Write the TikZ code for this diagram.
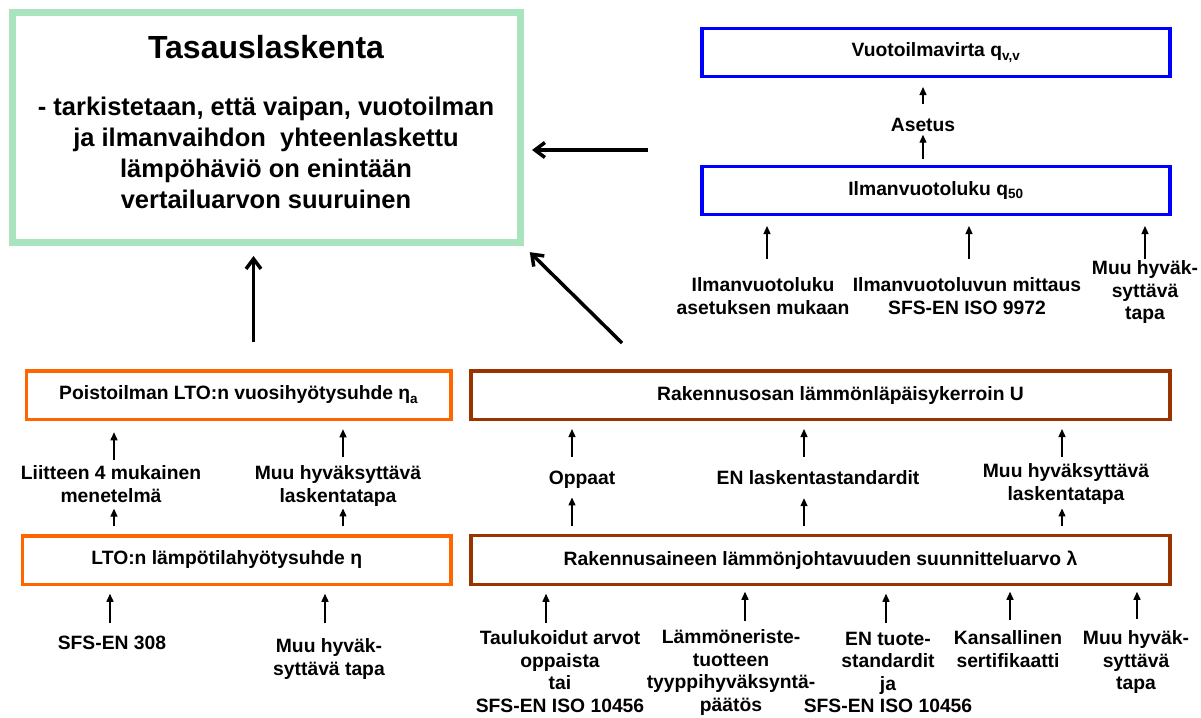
\documentclass[tikz,border=0pt]{standalone}
\usepackage{fontspec}
\setmainfont{Liberation Sans}
\usetikzlibrary{arrows.meta}
\definecolor{tasausgreen}{RGB}{170, 228, 190}
\definecolor{vuotoblue}{RGB}{0, 0, 255}
\definecolor{ltoorange}{RGB}{255, 102, 0}
\definecolor{rakennusbrown}{RGB}{153, 51, 0}

\begin{document}
\begin{tikzpicture}[
        x=1pt, y=-1pt,
        every node/.style={font=\bfseries\fontsize{19.3}{22.5}\selectfont, inner sep=0pt, outer sep=0pt},
        tasausbox/.style={rectangle, draw=tasausgreen, line width=7pt, minimum width=507.5pt, minimum height=230pt},
        vuotobox/.style={rectangle, draw=vuotoblue, line width=3.3pt, minimum width=468pt, minimum height=48pt},
        ltobox/.style={rectangle, draw=ltoorange, line width=3.5pt, minimum height=48.5pt},
        rakbox/.style={rectangle, draw=rakennusbrown, line width=3.3pt, minimum width=699pt, minimum height=48.5pt},
        selite/.style={align=center, anchor=north},
        pieni/.style={-{Triangle[length=8pt, width=7pt]}, line width=1.3pt},
        iso/.style={-{Straight Barb[length=10pt, width=15pt]}, line width=3.5pt}
    ]
    \path[use as bounding box, fill=white] (0,0) rectangle (1201,717);

    % Tasauslaskenta
    \node[tasausbox] (tasaus) at (266.25, 127.5) {};
    \node[font=\bfseries\fontsize{32}{38}\selectfont] (otsikko) at (266, 47) {Tasauslaskenta};
    \node[align=center, font=\bfseries\fontsize{25.5}{31}\selectfont] (kuvaus) at (266, 152.5) {- tarkistetaan, että vaipan, vuotoilman\\ja ilmanvaihdon\ \ yhteenlaskettu\\lämpöhäviö on enintään\\vertailuarvon suuruinen};

    % Vuotoilma
    \node[vuotobox] (vuoto) at (936, 52.5) {Vuotoilmavirta q\textsubscript{v,v}};
    \node (asetus) at (923, 125) {Asetus};
    \node[vuotobox] (ilmanv) at (936, 190.5) {Ilmanvuotoluku q\textsubscript{50}};
    \node[selite] (ilmasetus) at (763, 278) {Ilmanvuotoluku\\asetuksen mukaan};
    \node[selite] (ilmmittaus) at (967, 278) {Ilmanvuotoluvun mittaus\\SFS-EN ISO 9972};
    \node[selite] (ilmmuu) at (1145, 261) {Muu hyväk-\\syttävä\\tapa};

    % LTO
    \node[ltobox, minimum width=424.5pt] (poisto) at (238.75, 395) {Poistoilman LTO:n vuosihyötysuhde η\textsubscript{a}};
    \node[selite] (liite) at (111, 466) {Liitteen 4 mukainen\\menetelmä};
    \node[selite] (poistomuu) at (338, 466) {Muu hyväksyttävä\\laskentatapa};
    \node[ltobox, minimum width=428.5pt] (lampo) at (236.75, 560) {LTO:n lämpötilahyötysuhde η\hspace*{20pt}};
    \node[selite] (sfs) at (112, 636) {SFS-EN 308};
    \node[selite] (lampomuu) at (329, 639) {Muu hyväk-\\syttävä tapa};

    % Rakennusosa
    \node[rakbox] (uarvo) at (820.5, 395.25) {\hspace*{40pt}Rakennusosan lämmönläpäisykerroin U};
    \node[selite] (oppaat) at (582, 471) {Oppaat};
    \node[selite] (enlask) at (818, 471) {EN laskentastandardit};
    \node[selite] (rakmuu) at (1066, 464) {Muu hyväksyttävä\\laskentatapa};
    \node[rakbox] (lambda) at (820.5, 560) {Rakennusaineen lämmönjohtavuuden suunnitteluarvo λ};
    \node[selite] (taulukko) at (560, 631) {Taulukoidut arvot\\oppaista\\tai\\SFS-EN ISO 10456};
    \node[selite] (eriste) at (731, 630) {Lämmöneriste-\\tuotteen\\tyyppihyväksyntä-\\päätös};
    \node[selite] (tuote) at (888, 632) {EN tuote-\\standardit\\ja\\SFS-EN ISO 10456};
    \node[selite] (kansall) at (1008, 631) {Kansallinen\\sertifikaatti};
    \node[selite] (lambdamuu) at (1136, 631) {Muu hyväk-\\syttävä\\tapa};

    % Big arrows into Tasauslaskenta
    \coordinate (vuotoryhma) at (648, 150);
    \coordinate (ltoryhma) at (253.5, 342);
    \coordinate (rakryhma) at (622, 343);
    \draw[iso, shorten >=12pt] (vuotoryhma) -- (vuotoryhma -| tasaus.east);
    \draw[iso, shorten >=13.5pt] (ltoryhma) -- (ltoryhma |- tasaus.south);
    \draw[iso, shorten >=13.8pt] (rakryhma) -- (tasaus.south east);

    % Vuotoilma arrows
    \draw[pieni, shorten <=14pt, shorten >=10.5pt] (asetus.north) -- (asetus.north |- vuoto.south);
    \draw[pieni, shorten <=7.5pt, shorten >=3pt] (asetus.south |- ilmanv.north) -- (asetus.south);
    \draw[pieni, shorten <=19pt, shorten >=11.5pt] ([xshift=4pt]ilmasetus.north) -- ([xshift=4pt]ilmasetus.north |- ilmanv.south);
    \draw[pieni, shorten <=19pt, shorten >=11.5pt] ([xshift=2pt]ilmmittaus.north) -- ([xshift=2pt]ilmmittaus.north |- ilmanv.south);
    \draw[pieni, shorten <=2pt, shorten >=11.5pt] (ilmmuu.north) -- (ilmmuu.north |- ilmanv.south);

    % LTO arrows
    \draw[pieni, shorten <=6pt, shorten >=13pt] ([xshift=3pt]liite.north) -- ([xshift=3pt]liite.north |- poisto.south);
    \draw[pieni, shorten <=9pt, shorten >=10pt] ([xshift=5pt]poistomuu.north) -- ([xshift=5pt]poistomuu.north |- poisto.south);
    \draw[pieni, shorten <=9.5pt, shorten >=6pt] ([xshift=3pt]liite.south |- lampo.north) -- ([xshift=3pt]liite.south);
    \draw[pieni, shorten <=9.5pt, shorten >=2pt] ([xshift=5pt]poistomuu.south |- lampo.north) -- ([xshift=5pt]poistomuu.south);
    \draw[pieni, shorten <=13pt, shorten >=9.5pt] ([xshift=-2pt]sfs.north) -- ([xshift=-2pt]sfs.north |- lampo.south);
    \draw[pieni, shorten <=16pt, shorten >=9.5pt] ([xshift=-4pt]lampomuu.north) -- ([xshift=-4pt]lampomuu.north |- lampo.south);

    % Rakennusosa arrows
    \draw[pieni, shorten <=14pt, shorten >=9.5pt] ([xshift=-10pt]oppaat.north) -- ([xshift=-10pt]oppaat.north |- uarvo.south);
    \draw[pieni, shorten <=14pt, shorten >=9.5pt] ([xshift=-14pt]enlask.north) -- ([xshift=-14pt]enlask.north |- uarvo.south);
    \draw[pieni, shorten <=7pt, shorten >=9.5pt] ([xshift=-4pt]rakmuu.north) -- ([xshift=-4pt]rakmuu.north |- uarvo.south);
    \draw[pieni, shorten <=9.5pt, shorten >=9pt] ([xshift=-10pt]oppaat.south |- lambda.north) -- ([xshift=-10pt]oppaat.south);
    \draw[pieni, shorten <=9.5pt, shorten >=13pt] ([xshift=-14pt]enlask.south |- lambda.north) -- ([xshift=-14pt]enlask.south);
    \draw[pieni, shorten <=9.5pt, shorten >=4pt] ([xshift=-4pt]rakmuu.south |- lambda.north) -- ([xshift=-4pt]rakmuu.south);
    \draw[pieni, shorten <=8pt, shorten >=9.5pt] ([xshift=-14pt]taulukko.north) -- ([xshift=-14pt]taulukko.north |- lambda.south);
    \draw[pieni, shorten <=9pt, shorten >=7.5pt] ([xshift=14pt]eriste.north) -- ([xshift=14pt]eriste.north |- lambda.south);
    \draw[pieni, shorten <=9pt, shorten >=9.5pt] ([xshift=-2pt]tuote.north) -- ([xshift=-2pt]tuote.north |- lambda.south);
    \draw[pieni, shorten <=11pt, shorten >=7.5pt] ([xshift=2pt]kansall.north) -- ([xshift=2pt]kansall.north |- lambda.south);
    \draw[pieni, shorten <=12pt, shorten >=7.5pt] ([xshift=1pt]lambdamuu.north) -- ([xshift=1pt]lambdamuu.north |- lambda.south);

\end{tikzpicture}
\end{document}
